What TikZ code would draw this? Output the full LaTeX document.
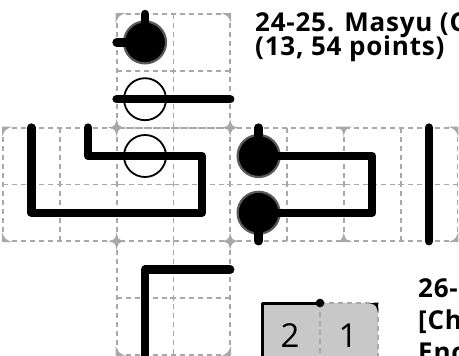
\documentclass[tikz,border=0pt]{standalone}
\usepackage{fontspec}
\setmainfont{Open Sans}
\newfontfamily\titlefont{Open Sans}[LetterSpace=3]
\definecolor{gridgray}{HTML}{A8A8A8}
\definecolor{pearlrim}{HTML}{5A5A5A}
\definecolor{boxgray}{HTML}{C8C8C8}
\begin{document}
\begin{tikzpicture}[x=1pt,y=-1pt,
  gridline/.style={draw=gridgray, line width=1.8pt, dash pattern=on 5pt off 4pt},
  gridplus/.style={draw=gridgray, line width=1.8pt},
  loopline/.style={line width=8.5pt, line cap=round, line join=round},
  blackpearl/.style={circle, fill=black, draw=pearlrim, line width=2.2pt, minimum size=42pt, inner sep=0pt},
  whitepearl/.style={circle, fill=white, draw=black, line width=1.8pt, minimum size=42pt, inner sep=0pt},
  titletext/.style={font=\titlefont\bfseries\fontsize{26}{26}\selectfont, inner sep=0pt, anchor=base west},
  digittext/.style={font=\fontsize{33}{33}\selectfont, inner sep=0pt, anchor=base},
  cornerfill/.style={fill=gridgray}]
\useasboundingbox (0,0) rectangle (459,356);
\clip (0,0) rectangle (459,356);

% ---------- dashed grids ----------
% top section
\foreach \yy in {14,70.8,127.6} \draw[gridline] (116.6,\yy) -- (230.2,\yy);
\foreach \xx in {116.6,173.4,230.2} \draw[gridline] (\xx,14) -- (\xx,127.6);
% middle section
\foreach \yy in {184.4,241.2} \draw[gridline] (3,\yy) -- (457.4,\yy);
\draw[gridline] (3,127.6) -- (457.4,127.6);
\foreach \xx in {3,59.8,116.6,173.4,230.2,287,343.8,400.6,457.4} \draw[gridline] (\xx,127.6) -- (\xx,241.2);
% bottom section
\foreach \yy in {298,354.8} \draw[gridline] (116.6,\yy) -- (230.2,\yy);
\foreach \xx in {116.6,173.4,230.2} \draw[gridline] (\xx,241.2) -- (\xx,354.8);

% small crosses at inner grid points
\foreach \px/\py in {173.4/70.8,59.8/184.4,116.6/184.4,173.4/184.4,230.2/184.4,287/184.4,343.8/184.4,400.6/184.4,173.4/298}
  \draw[gridplus] (\px-3,\py) -- (\px+3,\py) (\px,\py-3) -- (\px,\py+3);

% corner wedges
\foreach \px/\py/\sx/\sy in {116.6/14/1/1, 230.2/14/-1/1, 3/127.6/1/1, 457.4/127.6/-1/1, 3/241.2/1/-1, 457.4/241.2/-1/-1, 116.6/354.8/1/-1, 230.2/354.8/-1/-1}
  \fill[cornerfill, shift={(\px,\py)}, xscale=\sx, yscale=\sy] (-0.9,-0.9) -- (9,-0.9) .. controls (2,2) .. (-0.9,9) -- cycle;
% four-point stars
\foreach \px/\py in {116.6/127.6, 230.2/127.6, 116.6/241.2, 230.2/241.2}
  \fill[cornerfill, shift={(\px,\py)}] (9,0) .. controls (1.5,1.5) .. (0,9) .. controls (-1.5,1.5) .. (-9,0) .. controls (-1.5,-1.5) .. (0,-9) .. controls (1.5,-1.5) .. cycle;
% T-junction triangles
\foreach \px/\py/\sy in {343.8/127.6/1, 343.8/241.2/-1}
  \fill[cornerfill, shift={(\px,\py)}, yscale=\sy] (-9,-0.9) -- (9,-0.9) .. controls (1.5,1.5) .. (0,9) .. controls (-1.5,1.5) .. cycle;

% ---------- pearls ----------
\node[blackpearl] (bp1) at (145,42.4) {};
\node[whitepearl] (wp1) at (145,99.2) {};
\node[whitepearl] (wp2) at (145,156) {};
\node[blackpearl] (bp2) at (258.6,156) {};
\node[blackpearl] (bp3) at (258.6,212.8) {};

% ---------- loop segments ----------
\coordinate (bp1up) at (145,14);
\coordinate (bp1left) at (116.6,42.4);
\draw[loopline] (bp1up) -- (bp1.center) -- (bp1left);

\coordinate (wp1l) at (116.6,99.2);
\coordinate (wp1r) at (230.2,99.2);
\draw[loopline] (wp1l) -- (wp1r);

\coordinate (la) at (31.4,127.6);
\coordinate (lb) at (31.4,212.8);
\coordinate (lc) at (201.8,212.8);
\coordinate (ld) at (201.8,156);
\coordinate (le) at (88.2,156);
\coordinate (lf) at (88.2,127.6);
\draw[loopline] (la) -- (lb) -- (lc) -- (ld) -- (le) -- (lf);

\coordinate (bp2up) at (258.6,127.6);
\coordinate (ra) at (372.2,156);
\coordinate (rb) at (372.2,212.8);
\coordinate (bp3down) at (258.6,241.2);
\draw[loopline] (bp2up) -- (bp2.center) -- (ra) -- (rb) -- (bp3.center) -- (bp3down);

\coordinate (va) at (429,127.6);
\coordinate (vb) at (429,241.2);
\draw[loopline] (va) -- (vb);

\coordinate (ba) at (230.2,269.6);
\coordinate (bb) at (145,269.6);
\coordinate (bc) at (145,362);
\draw[loopline] (ba) -- (bb) -- (bc);

% ---------- bottom-right clue box ----------
\coordinate (kTL) at (262,303);
\coordinate (kTM) at (320,303);
\coordinate (kTR) at (378,303);
\fill[boxgray, rounded corners=3pt] (262,362) -- (kTL) -- (kTR) -- (378,362) -- cycle;
\draw[gridline] (kTM) -- (kTR) -- (378,362);
\draw[gridline] (kTM) -- (320,362);
\draw[line width=3pt, line join=round] (262,362) -- (kTL) -- (kTM);
\fill (kTM) circle (4.3);
\fill (kTR) -- (369,303) .. controls (376,305) .. (378,312) -- cycle;
\node[digittext] (d2) at (290,347) {2};
\node[digittext] (d1) at (348,347) {1};

% ---------- titles ----------
\node[titletext] (t1) at (255,31.7) {24-25. Masyu (C};
\node[titletext] (t2) at (255,55.2) {(13, 54 points)};
\node[titletext] (t3) at (418,297) {26-};
\node[titletext] (t4) at (418,329) {[Ch};
\node[titletext] (t5) at (418,361) {Enc};
\end{tikzpicture}
\end{document}
